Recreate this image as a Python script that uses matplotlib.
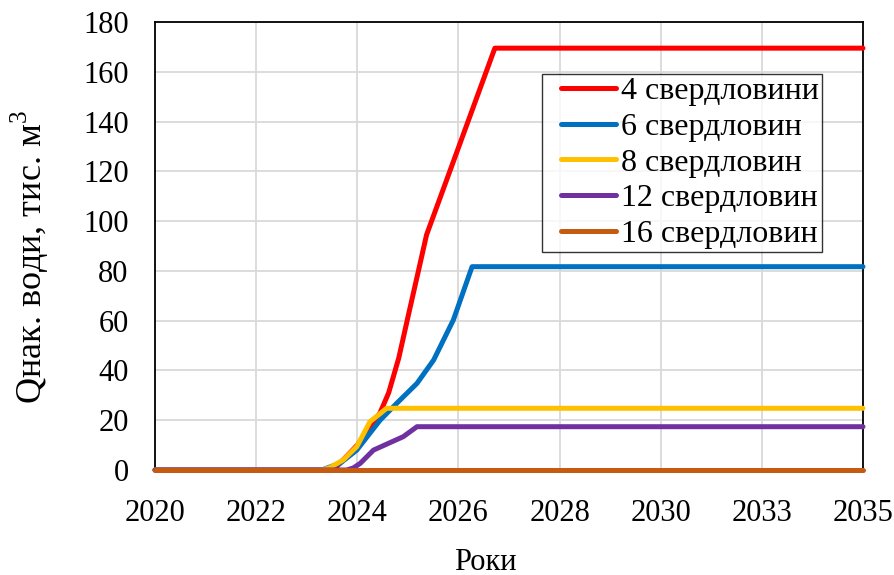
import matplotlib.pyplot as plt
from matplotlib.lines import Line2D
from matplotlib.legend_handler import HandlerLine2D

plt.rcParams["font.family"] = ["Liberation Serif", "DejaVu Serif"]
plt.rcParams["mathtext.fontset"] = "custom"
plt.rcParams["mathtext.rm"] = "Liberation Serif"

# x in years on an even grid, ticks every 2 years
tick_pos = [2020, 2022, 2024, 2026, 2028, 2030, 2032, 2034]
tick_labels = ["2020", "2022", "2024", "2026", "2028", "2030", "2033", "2035"]

x4 = [2020, 2023.3, 2023.6, 2024.0, 2024.25, 2024.45, 2024.62, 2024.82,
      2025.03, 2025.22, 2025.37, 2026.72, 2034]
y4 = [0, 0, 1.5, 10, 17, 23, 31, 45, 64, 81, 94.5, 169.5, 169.5]

x6 = [2020, 2023.3, 2023.4, 2023.66, 2023.99, 2024.25, 2024.45, 2024.78,
      2025.18, 2025.51, 2025.9, 2026.27, 2034]
y6 = [0, 0, 0.8, 2.7, 8, 14.8, 20, 26.8, 34.8, 44.2, 60.3, 81.7, 81.7]

x8 = [2020, 2023.3, 2023.46, 2023.72, 2023.99, 2024.25, 2024.58, 2034]
y8 = [0, 0, 1, 4, 9.4, 19.4, 24.8, 24.8]

x12 = [2020, 2023.79, 2023.92, 2024.06, 2024.32, 2024.91, 2025.18, 2034]
y12 = [0, 0, 0.8, 2.7, 8, 13.4, 17.4, 17.4]

x16 = [2020, 2034]
y16 = [0, 0]

series = [
    (x4, y4, "4 свердловини", "#FF0000"),
    (x6, y6, "6 свердловин", "#0070C0"),
    (x8, y8, "8 свердловин", "#FFC000"),
    (x12, y12, "12 свердловин", "#7030A0"),
    (x16, y16, "16 свердловин", "#C55A11"),
]

fig = plt.figure(figsize=(8.94, 5.75), dpi=100)
ax = fig.add_axes([0.1734, 0.1826, 0.7919, 0.7791])

for xs, ys, lab, col in series:
    ax.plot(xs, ys, color=col, linewidth=3.6, label=lab,
            solid_joinstyle="round", solid_capstyle="round",
            clip_on=False, zorder=3)

ax.set_xlim(2020, 2034)
ax.set_ylim(0, 180)
ax.set_xticks(tick_pos)
ax.set_xticklabels(tick_labels)
ax.set_yticks(range(0, 181, 20))
ax.tick_params(labelsize=22, length=0)
ax.tick_params(axis="x", pad=21)
ax.tick_params(axis="y", pad=19)
ax.grid(True, color="#D9D9D9", linewidth=1.3)
ax.set_axisbelow(True)
for s in ax.spines.values():
    s.set_color("black")
    s.set_linewidth(1.3)

fig.text(485 / 894, 1 - 562 / 575, "Роки", fontsize=22,
         ha="center", va="center")
fig.text(30 / 894, 1 - 257 / 575, "Qнак. води, тис. м$^{3}$", fontsize=26,
         rotation=90, ha="center", va="center")

leg = ax.legend(loc="upper left", bbox_to_anchor=(0.547, 0.885), fontsize=23,
                frameon=True, fancybox=False, edgecolor="black",
                handler_map={Line2D: HandlerLine2D(xpad=0.49)},
                handlelength=2.21, handletextpad=0.14, labelspacing=0.2,
                borderpad=0.1, borderaxespad=0)
leg.get_frame().set_linewidth(1.0)

fig.savefig("out.png", dpi=100)
